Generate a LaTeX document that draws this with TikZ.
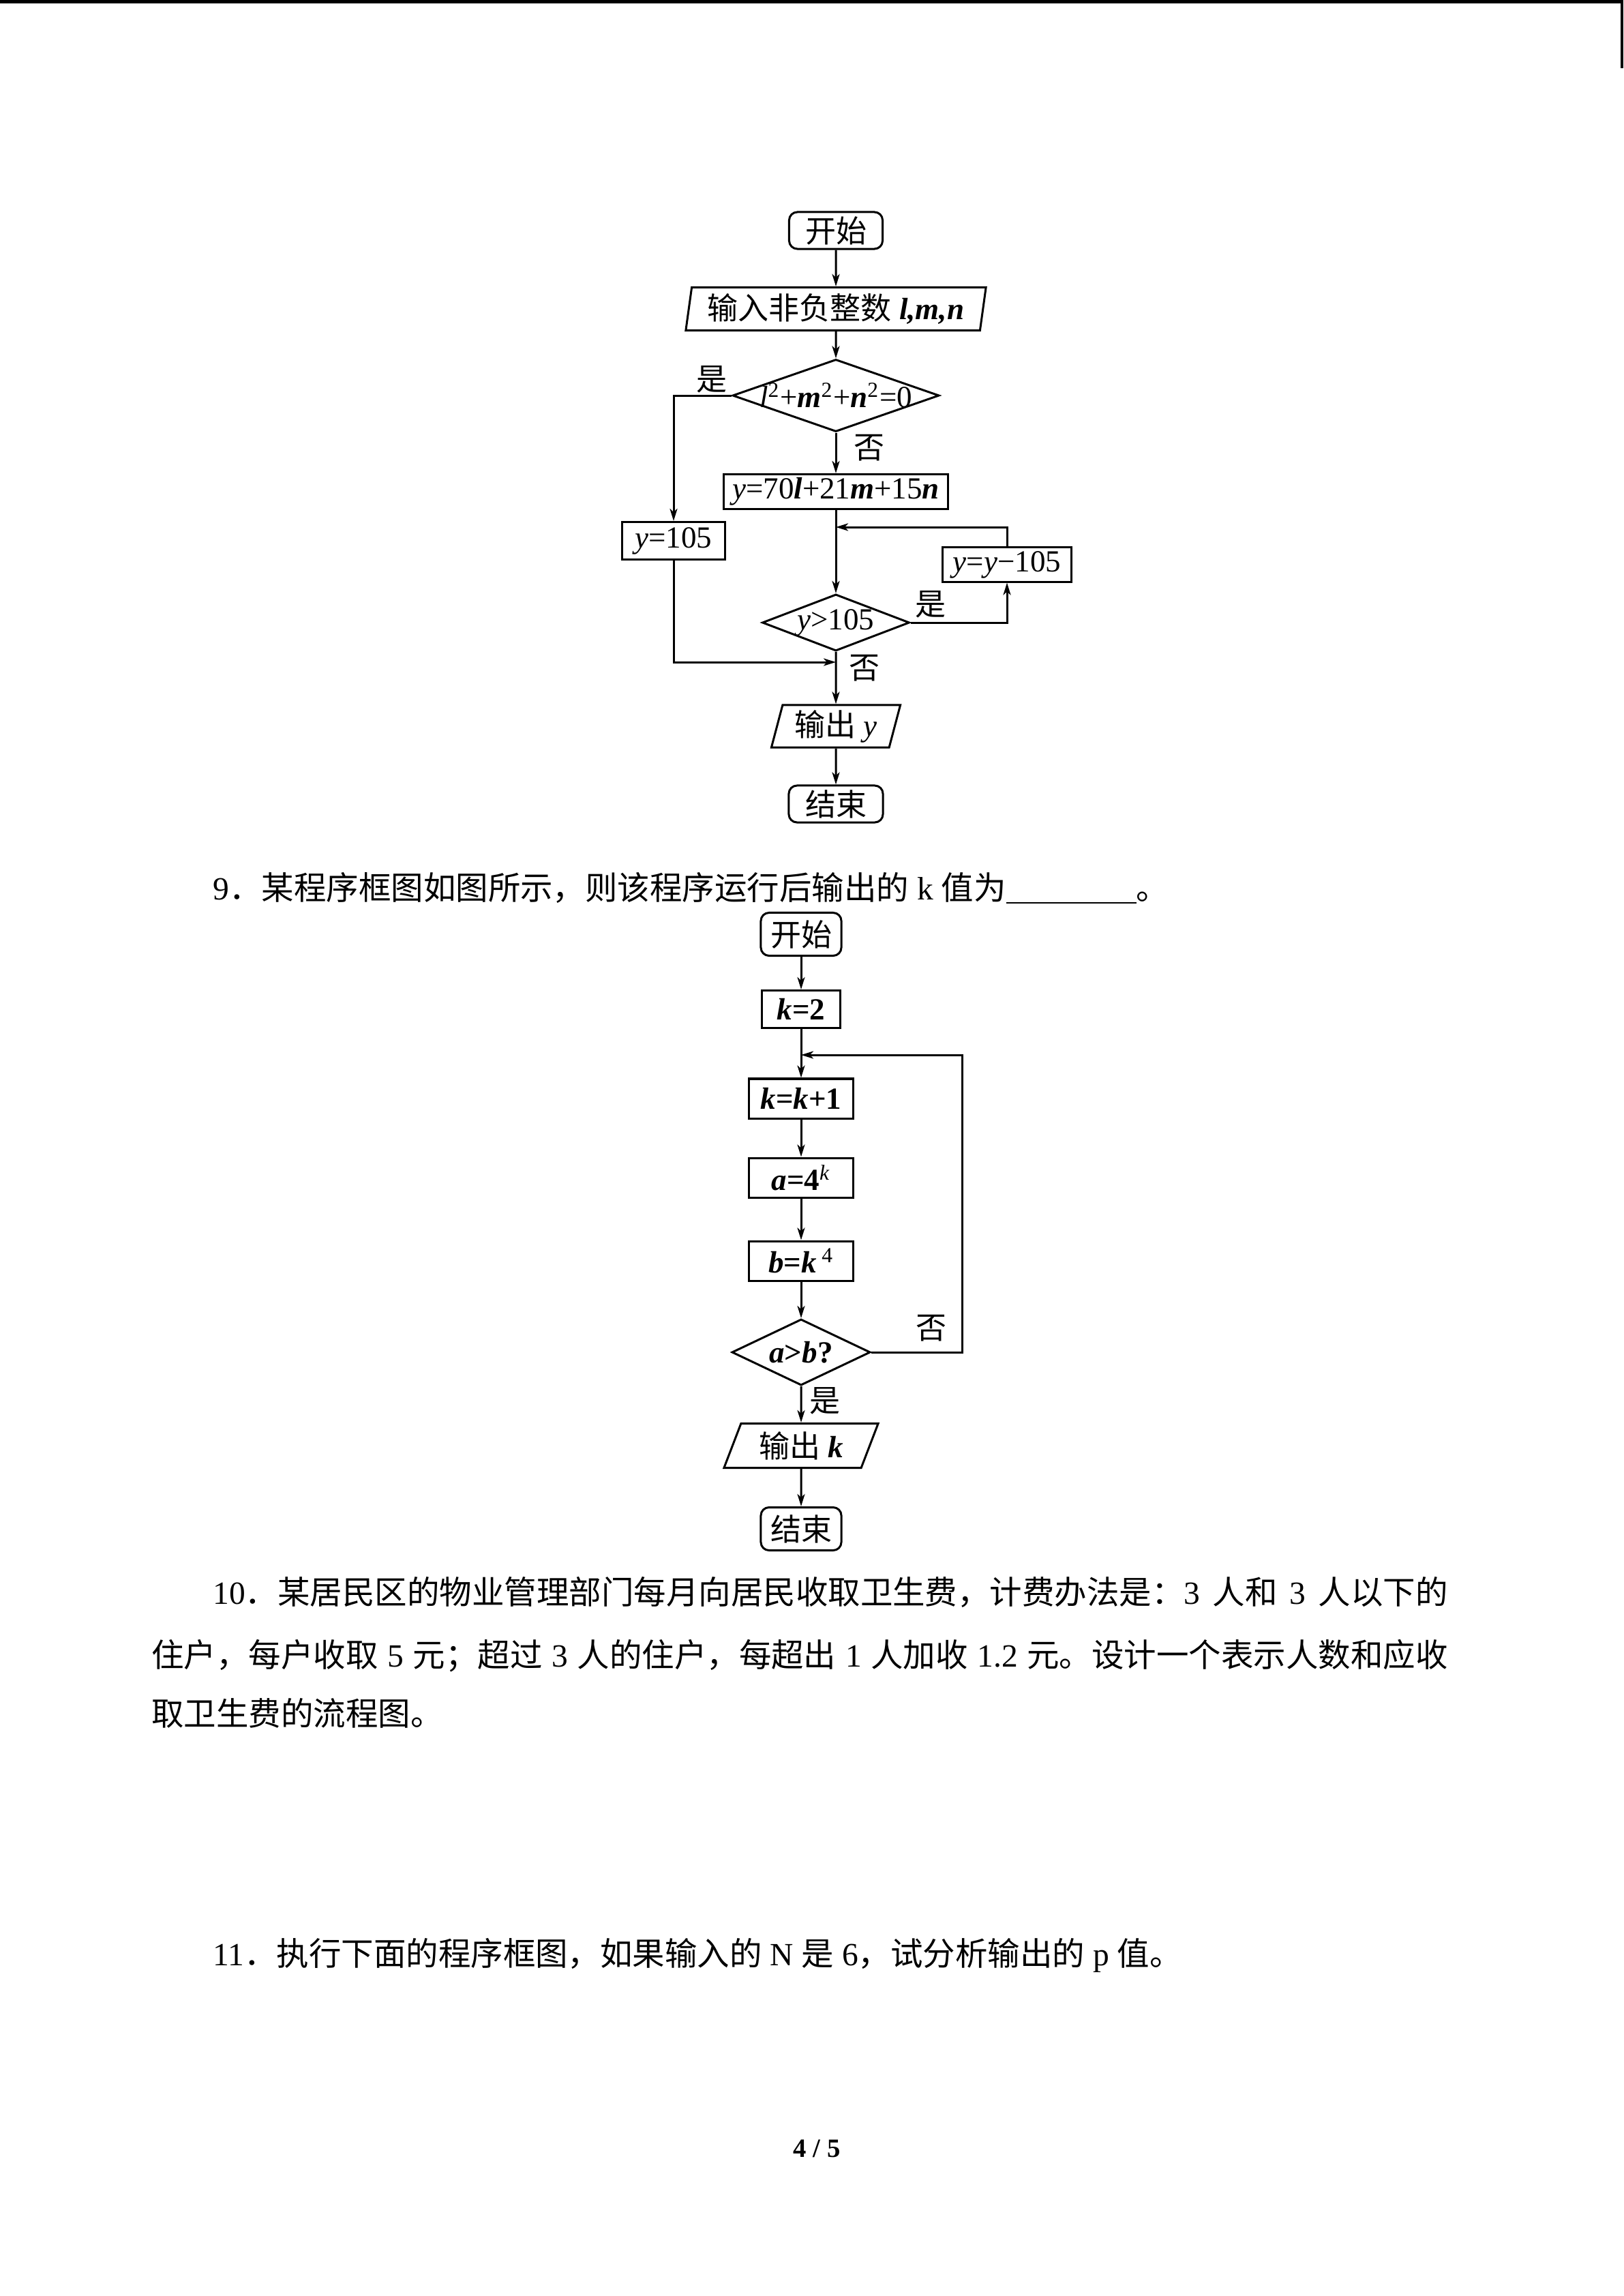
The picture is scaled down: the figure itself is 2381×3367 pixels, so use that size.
\documentclass[tikz,border=0pt]{standalone}
\usepackage{fontspec}
\setmainfont{Liberation Serif}
\newfontfamily\zh{Noto Sans CJK SC}
\XeTeXlinebreaklocale "zh"
\XeTeXlinebreakskip=0pt plus 1pt
\usetikzlibrary{positioning, shapes.geometric, arrows.meta, calc}
\newcommand{\bi}[1]{\textbf{\textit{#1}}}

\begin{document}
\begin{tikzpicture}[x=0.01cm, y=-0.01cm, line width=0.3mm,
		>={Stealth[length=1.8mm, width=1.1mm, inset=0.5mm]},
		every node/.style={inner sep=0pt, font=\fontsize{12.8}{15}\selectfont},
		startbox/.style={draw, rounded corners=1.2mm, minimum width=1.37cm, minimum height=0.54cm},
		procbox/.style={draw, rectangle, minimum width=1.53cm, minimum height=0.58cm},
		iobox/.style={draw, trapezium, trapezium stretches body, minimum height=0.63cm},
		testbox/.style={draw, diamond, aspect=2.6},
		body/.style={anchor=base west, font=\fontsize{13.5}{16}\selectfont}]
		\useasboundingbox (0,0) rectangle (2381,3367);
		\fill (0,0) rectangle (2381,5);
		\fill (2377,0) rectangle (2381,100);
		\node[startbox] (s1) at (1226,338) {\zh 开始};
		\node[iobox, trapezium left angle=79, trapezium right angle=101, minimum width=4.4cm] (in1) at (1226,453) {{\zh 输入非负整数} \bi{l,m,n}};
		\node[testbox, minimum width=3.03cm, minimum height=1.06cm] (d1) at (1226,580) {\makebox[0pt]{\textit{l}\textsuperscript{2}+\bi{m}\textsuperscript{2}+\bi{n}\textsuperscript{2}=0}};
		\node[procbox, minimum width=3.28cm, minimum height=0.51cm] (c1) at (1226,721) {\textit{y}=70\bi{l}+21\bi{m}+15\bi{n}};
		\node[procbox, minimum width=1.5cm, minimum height=0.55cm] (a1) at (988,793) {\textit{y}=105};
		\node[testbox, minimum width=2.13cm, minimum height=0.82cm] (d2) at (1226,913) {\textit{y}>105};
		\node[procbox, minimum width=1.88cm, minimum height=0.5cm] (c2) at (1477,828) {\textit{y}=\textit{y}−105};
		\node[iobox, trapezium left angle=71, trapezium right angle=109, minimum width=1.89cm, minimum height=0.62cm] (o1) at (1226,1065) {{\zh 输出} \textit{y}};
		\node[startbox, minimum width=1.38cm] (e1) at (1226,1179) {\zh 结束};
		\coordinate (j1) at (1226,773);
		\coordinate (j2) at (1226,971);
		\draw[->] (s1) -- (in1);
		\draw[->] (in1) -- (d1);
		\draw[->] (d1.west) -| (a1.north);
		\draw[->] (d1) -- (c1);
		\draw[->] (c1) -- (d2);
		\draw[->] (d2.east) -| (c2.south);
		\draw[->] (c2.north) |- (j1);
		\draw[->] (a1.south) |- (j2);
		\draw[->] (d2) -- (o1);
		\draw[->] (o1) -- (e1);
		\node (yes1) at (1044,556) {\zh 是};
		\node (no1) at (1275,657) {\zh 否};
		\node (yes2) at (1365,886) {\zh 是};
		\node (no2) at (1268,980) {\zh 否};

		\node[body] (q9) at (311,1319) {9{\zh ．某程序框图如图所示，则该程序运行后输出的} k {\zh 值为}\underline{\hspace{1.91cm}}{\zh 。}};

		\node[startbox, minimum width=1.18cm, minimum height=0.63cm] (s2) at (1175,1370) {\zh 开始};
		\node[procbox, minimum width=1.15cm, minimum height=0.55cm] (k0) at (1175,1480) {\bi{k}\textbf{=2}};
		\node[procbox] (p1) at (1175,1611) {\bi{k}\textbf{=}\bi{k}\textbf{+1}};
		\node[procbox] (p2) at (1175,1727) {\bi{a}\textbf{=4}\textsuperscript{\textit{k}}};
		\node[procbox] (p3) at (1175,1849) {\bi{b}\textbf{=}\bi{k}\,\textsuperscript{4}};
		\node[testbox, minimum width=2.03cm, minimum height=0.97cm] (d3) at (1175,1983) {\bi{a}\textbf{>}\bi{b}\textbf{?}};
		\node[iobox, trapezium left angle=59, trapezium right angle=121, minimum width=2.26cm, minimum height=0.65cm] (o2) at (1175,2120) {{\zh 输出} \bi{k}};
		\node[startbox, minimum width=1.18cm, minimum height=0.63cm] (e2) at (1175,2242) {\zh 结束};
		\coordinate (j3) at (1175,1547);
		\coordinate (r2) at (1411,1547);
		\draw[->] (s2) -- (k0);
		\draw[->] (k0) -- (p1);
		\draw[->] (p1) -- (p2);
		\draw[->] (p2) -- (p3);
		\draw[->] (p3) -- (d3);
		\draw[->] (d3) -- (o2);
		\draw[->] (o2) -- (e2);
		\draw[->] (d3.east) -| (r2) -- (j3);
		\node (no3) at (1366,1948) {\zh 否};
		\node (yes3) at (1210,2054) {\zh 是};

		\node[body] (q10a) at (311,2352) {\makebox[18.1cm][s]{10{\zh ．某居民区的物业管理部门每月向居民收取卫生费，计费办法是：}3 {\zh 人和} 3 {\zh 人以下的}}};
		\node[body] (q10b) at (221,2444) {\makebox[19cm][s]{{\zh 住户，每户收取} 5 {\zh 元；超过} 3 {\zh 人的住户，每超出} 1 {\zh 人加收} 1.2 {\zh 元。设计一个表示人数和应收}}};
		\node[body] (q10c) at (221,2530) {\zh 取卫生费的流程图。};
		\node[body] (q11) at (311,2882) {11{\zh ．执行下面的程序框图，如果输入的} N {\zh 是} 6{\zh ，试分析输出的} p {\zh 值。}};
		\node[anchor=base, font=\fontsize{11}{13}\selectfont\bfseries] (pg) at (1198,3163) {4 / 5};
	\end{tikzpicture}
\end{document}
